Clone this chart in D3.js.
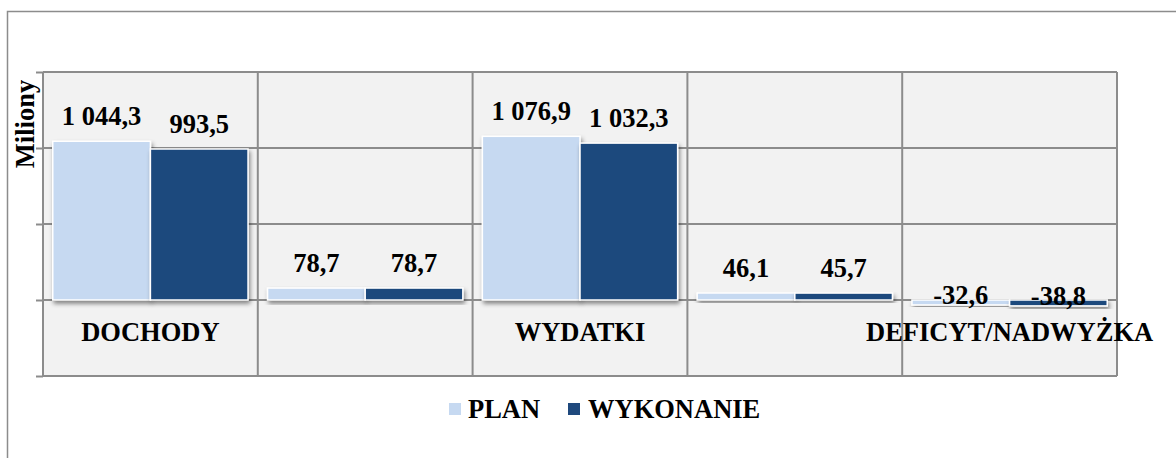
<!DOCTYPE html>
<html>
<head>
<meta charset="utf-8">
<script src="https://cdn.jsdelivr.net/npm/d3@7"></script>
<style>
  html, body { margin: 0; padding: 0; background: #fff; }
  svg { display: block; }
  text { font-family: "Liberation Serif", "Times New Roman", serif; font-weight: bold; fill: #000; }
</style>
</head>
<body>
<script>
var categoryLabels = ["DOCHODY", "", "WYDATKI", "", "DEFICYT/NADWYŻKA"];
var seriesNames = ["PLAN", "WYKONANIE"];
var planValues = [1044.3, 78.7, 1076.9, 46.1, -32.6];
var wykonanieValues = [993.5, 78.7, 1032.3, 45.7, -38.8];
var yTicks = [-500, 0, 500, 1000, 1500];

var width = 1176,
    height = 458,
    plotLeft = 43,
    plotRight = 1117,
    plotTop = 72,
    plotBottom = 376,
    fontSize = "26.5px",
    colors = ["#c6d9f1", "#1f497d"],
    gridColor = "#8c8c8c";

var pl = d3.formatLocale({ decimal: ",", thousands: " ", grouping: [3], currency: ["", ""], minus: "-" });
var fmt = pl.format(",.1f");

var svg = d3.select("body").append("svg")
  .attr("width", width)
  .attr("height", height);

var defs = svg.append("defs");
defs.append("filter")
  .attr("id", "shadow")
  .attr("x", "-10%").attr("y", "-10%")
  .attr("width", "130%").attr("height", "150%")
  .append("feDropShadow")
  .attr("dx", 1.5).attr("dy", 3)
  .attr("stdDeviation", 2.2)
  .attr("flood-color", "#000")
  .attr("flood-opacity", 0.45);

// chart frame
svg.append("rect")
  .attr("x", 7.5).attr("y", 11.5)
  .attr("width", 1400).attr("height", 600)
  .attr("fill", "#fff")
  .attr("stroke", gridColor)
  .attr("stroke-width", 1.5);

var x0 = d3.scaleBand()
  .domain(d3.range(categoryLabels.length))
  .range([plotLeft, plotRight]);

var x1 = d3.scaleBand()
  .domain(seriesNames)
  .range([0, x0.bandwidth()])
  .paddingOuter(0.1);

var y = d3.scaleLinear()
  .domain([-500, 1500])
  .range([plotBottom, plotTop]);

// plot background
svg.append("rect")
  .attr("x", plotLeft).attr("y", plotTop)
  .attr("width", plotRight - plotLeft)
  .attr("height", plotBottom - plotTop)
  .attr("fill", "#f2f2f2");

// horizontal grid + ticks
var yAxis = svg.append("g")
  .attr("transform", "translate(" + plotLeft + ",0)")
  .call(d3.axisLeft(y).tickValues(yTicks).tickSize(7).tickFormat(""));
yAxis.select(".domain").remove();
yAxis.selectAll("line").attr("stroke", gridColor).attr("stroke-width", 2);

svg.append("g").selectAll("line")
  .data(yTicks)
  .enter().append("line")
  .attr("x1", plotLeft).attr("x2", plotRight)
  .attr("y1", function(d) { return y(d); })
  .attr("y2", function(d) { return y(d); })
  .attr("stroke", gridColor)
  .attr("stroke-width", 2);

// vertical category separators
var bounds = d3.range(categoryLabels.length + 1).map(function(i) {
  return plotLeft + i * x0.step();
});
svg.append("g").selectAll("line")
  .data(bounds)
  .enter().append("line")
  .attr("x1", function(d) { return d; })
  .attr("x2", function(d) { return d; })
  .attr("y1", plotTop).attr("y2", plotBottom)
  .attr("stroke", gridColor)
  .attr("stroke-width", 2);

// bars
var rows = categoryLabels.map(function(c, i) {
  return [
    { key: seriesNames[0], i: i, value: planValues[i] },
    { key: seriesNames[1], i: i, value: wykonanieValues[i] }
  ];
});

var groups = svg.append("g").selectAll("g")
  .data(rows)
  .enter().append("g")
  .attr("transform", function(d, i) { return "translate(" + x0(i) + ",0)"; });

groups.selectAll("rect")
  .data(function(d) { return d; })
  .enter().append("rect")
  .attr("x", function(d) { return x1(d.key); })
  .attr("width", x1.bandwidth())
  .attr("y", function(d) { return y(Math.max(0, d.value)); })
  .attr("height", function(d) { return Math.abs(y(d.value) - y(0)); })
  .attr("fill", function(d, j) { return colors[j]; })
  .attr("stroke", "#fff")
  .attr("stroke-width", 1.5)
  .attr("filter", "url(#shadow)");

groups.selectAll("text")
  .data(function(d) { return d; })
  .enter().append("text")
  .attr("x", function(d) { return x1(d.key) + x1.bandwidth() / 2; })
  .attr("y", function(d) { return d.value >= 0 ? y(d.value) - 16 : y(d.value) - 1; })
  .attr("text-anchor", "middle")
  .style("font-size", fontSize)
  .text(function(d) { return fmt(d.value); });

// category labels
svg.append("g").selectAll("text")
  .data(categoryLabels)
  .enter().append("text")
  .attr("x", function(d, i) { return x0(i) + x0.bandwidth() / 2; })
  .attr("y", 341)
  .attr("text-anchor", "middle")
  .style("font-size", fontSize)
  .text(function(d) { return d; });

// y title
svg.append("text")
  .attr("transform", "translate(34,124) rotate(-90)")
  .attr("text-anchor", "middle")
  .style("font-size", fontSize)
  .text("Miliony");

// legend
var legendItems = [
  { name: seriesNames[0], color: colors[0], sx: 449, tx: 468 },
  { name: seriesNames[1], color: colors[1], sx: 568, tx: 588 }
];
var legend = svg.append("g");
legend.selectAll("rect")
  .data(legendItems)
  .enter().append("rect")
  .attr("x", function(d) { return d.sx; })
  .attr("y", 403)
  .attr("width", 12).attr("height", 12)
  .attr("fill", function(d) { return d.color; });
legend.selectAll("text")
  .data(legendItems)
  .enter().append("text")
  .attr("x", function(d) { return d.tx; })
  .attr("y", 418)
  .style("font-size", fontSize)
  .text(function(d) { return d.name; });
</script>
</body>
</html>
